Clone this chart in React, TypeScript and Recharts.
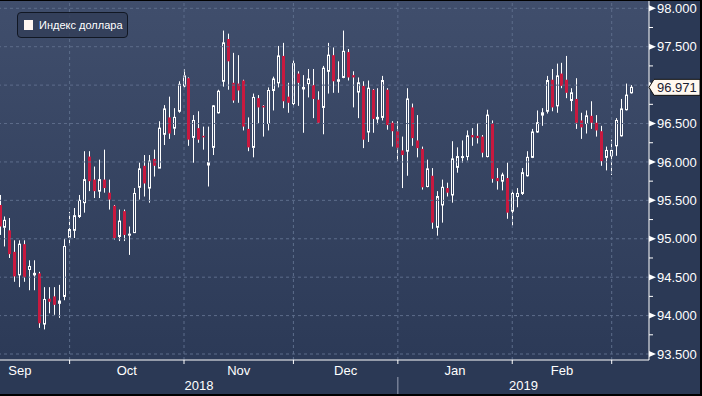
import React from "react";
import { Bar, ComposedChart, ReferenceLine, XAxis, YAxis } from "recharts";

// daily DXY candles, Sep 2018 .. early Mar 2019 (one per weekday)
const opens = [
  95.44, 95.15, 95.11, 94.83, 94.53, 94.93, 94.6, 94.53, 94.55, 93.89,
  94.22, 94.25, 94.16, 94.25, 95.02, 95.11, 95.29, 95.47, 96.07, 95.77,
  95.62, 95.77, 95.6, 95.43, 95.03, 95.36, 95.05, 95.08, 95.67, 95.95,
  95.66, 96.04, 95.92, 96.36, 96.58, 96.44, 96.66, 96.99, 97.09, 96.32,
  96.44, 96.34, 95.96, 96.19, 96.64, 97.05, 97.6, 97.03, 97.02, 97.06,
  96.43, 96.19, 96.83, 96.73, 96.5, 96.93, 97.03, 97.38, 96.85, 96.76,
  97.15, 96.95, 97.02, 97.0, 96.81, 96.71, 97.18, 97.39, 97.05, 97.1,
  97.43, 97.13, 96.91, 96.99, 96.39, 96.94, 96.56, 96.58, 96.94, 96.51,
  96.4, 96.15, 96.14, 96.71, 96.28, 96.17, 95.68, 95.82, 95.15, 95.44,
  95.66, 95.57, 95.93, 96.06, 96.07, 96.35, 96.34, 96.33, 96.07, 96.5,
  95.79, 95.75, 95.79, 95.36, 95.55, 95.59, 95.82, 96.06, 96.39, 96.61,
  96.66, 97.07, 96.73, 97.15, 97.07, 96.8, 96.82, 96.54, 96.5, 96.6,
  96.51, 96.4, 96.06, 96.08, 96.21, 96.34, 96.68, 96.9,
];
const highs = [
  95.57, 95.29, 95.27, 94.98, 94.98, 94.98, 94.72, 94.72, 94.57, 94.37,
  94.37, 94.37, 94.4, 95.0, 95.35, 95.4, 95.57, 96.14, 96.14, 95.94,
  96.03, 96.16, 95.77, 95.44, 95.38, 95.38, 95.16, 95.66, 95.99, 96.09,
  96.09, 96.16, 96.53, 96.74, 96.85, 96.7, 97.05, 97.21, 97.1, 96.61,
  96.66, 96.46, 96.46, 96.74, 96.94, 97.71, 97.67, 97.42, 97.39, 97.07,
  96.58, 96.89, 96.87, 96.74, 96.97, 97.11, 97.51, 97.55, 97.03, 97.32,
  97.18, 97.13, 97.21, 97.21, 96.92, 97.25, 97.55, 97.49, 97.31, 97.71,
  97.47, 97.18, 97.1, 97.05, 97.06, 96.95, 96.96, 97.12, 96.96, 96.53,
  96.53, 96.33, 96.96, 96.76, 96.61, 96.2, 96.03, 95.92, 95.62, 95.77,
  95.73, 96.27, 96.19, 96.28, 96.41, 96.44, 96.5, 96.35, 96.68, 96.54,
  95.92, 95.86, 95.99, 95.63, 95.66, 95.92, 96.14, 96.43, 96.67, 96.7,
  97.12, 97.21, 97.28, 97.29, 97.38, 96.96, 97.09, 96.64, 96.67, 96.79,
  96.61, 96.47, 96.2, 96.29, 96.57, 96.82, 97.02, 97.0,
];
const lows = [
  95.05, 94.9, 94.75, 94.44, 94.37, 94.44, 94.33, 94.33, 93.84, 93.82,
  94.03, 94.01, 93.97, 94.2, 94.92, 95.01, 95.27, 95.34, 95.62, 95.53,
  95.53, 95.6, 95.38, 94.99, 94.97, 94.97, 94.79, 95.08, 95.51, 95.55,
  95.47, 95.81, 95.92, 96.22, 96.3, 96.35, 96.64, 96.97, 96.21, 95.99,
  96.25, 96.16, 95.68, 96.09, 96.63, 96.98, 96.94, 96.77, 96.77, 96.41,
  96.14, 96.06, 96.5, 96.33, 96.41, 96.67, 96.97, 96.7, 96.64, 96.72,
  96.73, 96.38, 96.84, 96.57, 96.51, 96.36, 96.89, 96.9, 96.9, 97.09,
  97.06, 96.71, 96.57, 96.18, 96.26, 96.38, 96.49, 96.54, 96.42, 96.2,
  96.01, 95.66, 95.82, 96.21, 96.06, 95.64, 95.67, 95.13, 95.04, 95.21,
  95.55, 95.47, 95.86, 95.99, 96.02, 96.21, 96.24, 96.06, 96.06, 95.73,
  95.64, 95.63, 95.26, 95.17, 95.41, 95.57, 95.81, 96.05, 96.38, 96.47,
  96.63, 96.66, 96.64, 96.96, 96.83, 96.66, 96.43, 96.3, 96.37, 96.43,
  96.33, 95.95, 95.89, 95.83, 96.08, 96.33, 96.67, 96.89,
];
const closes = [
  95.16, 95.24, 94.8, 94.51, 94.93, 94.5, 94.64, 94.55, 93.9, 94.21,
  94.18, 94.14, 94.19, 94.9, 95.12, 95.3, 95.5, 95.77, 95.75, 95.62,
  95.77, 95.66, 95.51, 95.01, 95.23, 95.05, 95.06, 95.59, 95.91, 95.72,
  96.01, 95.95, 96.44, 96.69, 96.37, 96.58, 97.01, 97.12, 96.29, 96.54,
  96.29, 96.32, 95.99, 96.73, 96.92, 97.55, 97.31, 96.8, 96.93, 96.46,
  96.19, 96.84, 96.71, 96.71, 96.93, 97.08, 97.38, 96.79, 96.77, 97.28,
  97.03, 96.97, 97.08, 96.82, 96.51, 97.22, 97.39, 97.05, 97.07, 97.44,
  97.1, 97.1, 97.03, 96.29, 96.96, 96.56, 96.58, 97.06, 96.48, 96.4,
  96.18, 96.09, 96.82, 96.31, 96.18, 95.67, 95.91, 95.21, 95.55, 95.67,
  95.6, 96.04, 96.07, 96.07, 96.34, 96.32, 96.31, 96.12, 96.61, 95.78,
  95.75, 95.83, 95.34, 95.59, 95.59, 95.86, 96.06, 96.39, 96.51, 96.64,
  97.06, 96.71, 97.12, 96.99, 96.9, 96.9, 96.51, 96.45, 96.6, 96.51,
  96.41, 96.01, 96.15, 96.15, 96.54, 96.69, 96.87, 96.971,
];

const seriesName = "Индекс доллара";
const monthNames = ["Sep", "Oct", "Nov", "Dec", "Jan", "Feb"];
// candle index of the first weekday of Sep, Oct, Nov, Dec, Jan, Feb, Mar
const monthStarts = [-6, 14, 37, 59, 80, 103, 123];
const yearNames = ["2018", "2019"];
const yearBreak = 80;
const priceLabels = [93.5, 94, 94.5, 95, 95.5, 96, 96.5, 97, 97.5, 98];
const priceMinor = [93.75, 94.25, 94.75, 95.25, 95.75, 96.25, 96.75, 97.25, 97.75];

const X_DOMAIN: [number, number] = [0, 130.5];
const Y_DOMAIN: [number, number] = [93.422, 98.108];
const UP = "#ffffff";
const DOWN = "#c8193f";
const GRID = "#5d6d8b";
const FONT = "'Liberation Sans', Arial, sans-serif";

const data = closes.map((c, i) => ({
  i,
  open: opens[i],
  high: highs[i],
  low: lows[i],
  close: c,
  range: [lows[i], highs[i]],
}));

const lastClose = closes[closes.length - 1];

type AxisItem = { value: number; kind: "start" | "month" | "year"; label?: string };
const axisItems: AxisItem[] = [
  ...monthStarts.slice(1).map((v) => ({ value: v, kind: "start" as const })),
  ...monthNames.map((m, k) => ({
    value: (monthStarts[k] + monthStarts[k + 1]) / 2,
    kind: "month" as const,
    label: m,
  })),
  { value: (X_DOMAIN[0] + yearBreak) / 2, kind: "year", label: yearNames[0] },
  { value: (yearBreak + X_DOMAIN[1]) / 2, kind: "year", label: yearNames[1] },
];

function Candle(props: any) {
  const { x, y, width, height, payload } = props;
  const { open, close, high, low } = payload;
  const cx = Math.round(x + width / 2) + 0.5;
  const k = high === low ? 0 : height / (high - low);
  const py = (v: number) => y + (high - v) * k;
  const top = py(Math.max(open, close));
  const bot = py(Math.min(open, close));
  const bh = Math.max(bot - top, 1);
  if (close >= open) {
    return (
      <g>
        <line x1={cx} x2={cx} y1={y} y2={top} stroke={UP} />
        <line x1={cx} x2={cx} y1={top + bh} y2={y + height} stroke={UP} />
        <rect x={cx - 1} y={top} width={2} height={bh} fill="none" stroke={UP} />
      </g>
    );
  }
  return (
    <g>
      <line x1={cx} x2={cx} y1={y} y2={y + height} stroke={UP} />
      <rect x={cx - 1.5} y={top} width={3} height={bh} fill={DOWN} />
    </g>
  );
}

function PriceTick(props: any) {
  const { x, y, payload } = props;
  const v = payload.value;
  if (v === lastClose) {
    return (
      <g>
        <path
          d={`M${x},${y} L${x + 5},${y - 8} L${x + 51},${y - 8} L${x + 51},${y + 8} L${x + 5},${y + 8} Z`}
          fill="#fff8ef"
          stroke="#111"
        />
        <text x={x + 8} y={y} dy="0.36em" fontSize={13} fontFamily={FONT} fill="#1a2030">
          {v.toFixed(3)}
        </text>
      </g>
    );
  }
  if (!priceLabels.includes(v)) {
    return <line x1={x} x2={x + 4} y1={y} y2={y} stroke="#fff" />;
  }
  // the last-price tag covers the label nearest to it
  const covered = Math.abs(v - lastClose) < 0.15;
  return (
    <g>
      <path d={`M${x},${y - 3} L${x + 7},${y} L${x},${y + 3} Z`} fill="#fff" />
      {!covered && (
        <text x={x + 8} y={y} dy="0.36em" fontSize={13} fontFamily={FONT} fill="#fff">
          {v.toFixed(3)}
        </text>
      )}
    </g>
  );
}

function DateTick(props: any) {
  const { x, y, payload } = props;
  const item = axisItems.find((a) => a.value === payload.value);
  if (!item) return null;
  if (item.kind === "start") {
    return (
      <g>
        <line x1={x} x2={x} y1={y} y2={y + 4} stroke="#fff" />
        {item.value === yearBreak && (
          <line x1={x} x2={x} y1={y + 17} y2={y + 36} stroke="#9aa3b6" />
        )}
      </g>
    );
  }
  return (
    <text
      x={x}
      y={item.kind === "month" ? y + 15 : y + 30}
      textAnchor="middle"
      fontSize={13}
      fontFamily={FONT}
      fill="#fff"
    >
      {item.label}
    </text>
  );
}

export default function App() {
  return (
    <div
      style={{
        position: "absolute",
        left: 0,
        top: 0,
        width: 702,
        height: 396,
        background: "#2b3955",
        overflow: "hidden",
      }}
    >
      <div
        style={{
          position: "absolute",
          left: 0,
          top: 0,
          width: 649,
          height: 360,
          background: "linear-gradient(#404e6c, #2c3a57)",
        }}
      />
      <div style={{ position: "absolute", left: 0, top: 0 }}>
        <ComposedChart width={702} height={396} data={data} margin={{ top: 0, right: 0, bottom: 0, left: 0 }}>
          <XAxis
            dataKey="i"
            type="number"
            domain={X_DOMAIN}
            allowDataOverflow
            ticks={axisItems.map((a) => a.value)}
            interval={0}
            tick={<DateTick />}
            tickLine={false}
            tickSize={0}
            tickMargin={0}
            axisLine={{ stroke: "#fff" }}
            height={36}
          />
          <YAxis
            orientation="right"
            type="number"
            domain={Y_DOMAIN}
            allowDataOverflow
            ticks={[...priceLabels, ...priceMinor, lastClose]}
            interval={0}
            tick={<PriceTick />}
            tickLine={false}
            tickSize={0}
            tickMargin={0}
            axisLine={{ stroke: "#fff" }}
            width={53}
          />
          {priceLabels.map((v) => (
            <ReferenceLine key={"h" + v} y={v} stroke={GRID} strokeDasharray="3 3" />
          ))}
          {monthStarts.slice(1).map((v) => (
            <ReferenceLine key={"v" + v} x={v} stroke={GRID} strokeDasharray="3 3" />
          ))}
          <Bar dataKey="range" barSize={4} shape={<Candle />} isAnimationActive={false} />
        </ComposedChart>
      </div>
      <div
        style={{
          position: "absolute",
          left: 17,
          top: 12,
          width: 111,
          height: 26,
          boxSizing: "border-box",
          border: "1px solid #111723",
          borderRadius: 4,
          background: "rgba(50,62,88,0.85)",
          display: "flex",
          alignItems: "center",
          fontFamily: FONT,
          fontSize: 11,
          color: "#fff",
        }}
      >
        <span
          style={{
            display: "inline-block",
            width: 9,
            height: 10,
            background: "#fff6f0",
            marginLeft: 6,
            marginRight: 6,
          }}
        />
        <span>{seriesName}</span>
      </div>
      <div
        style={{
          position: "absolute",
          left: 0,
          top: 0,
          width: 702,
          height: 396,
          boxSizing: "border-box",
          borderTop: "1px solid #000",
          borderRight: "2px solid #000",
          borderBottom: "2px solid #000",
          pointerEvents: "none",
        }}
      />
    </div>
  );
}
